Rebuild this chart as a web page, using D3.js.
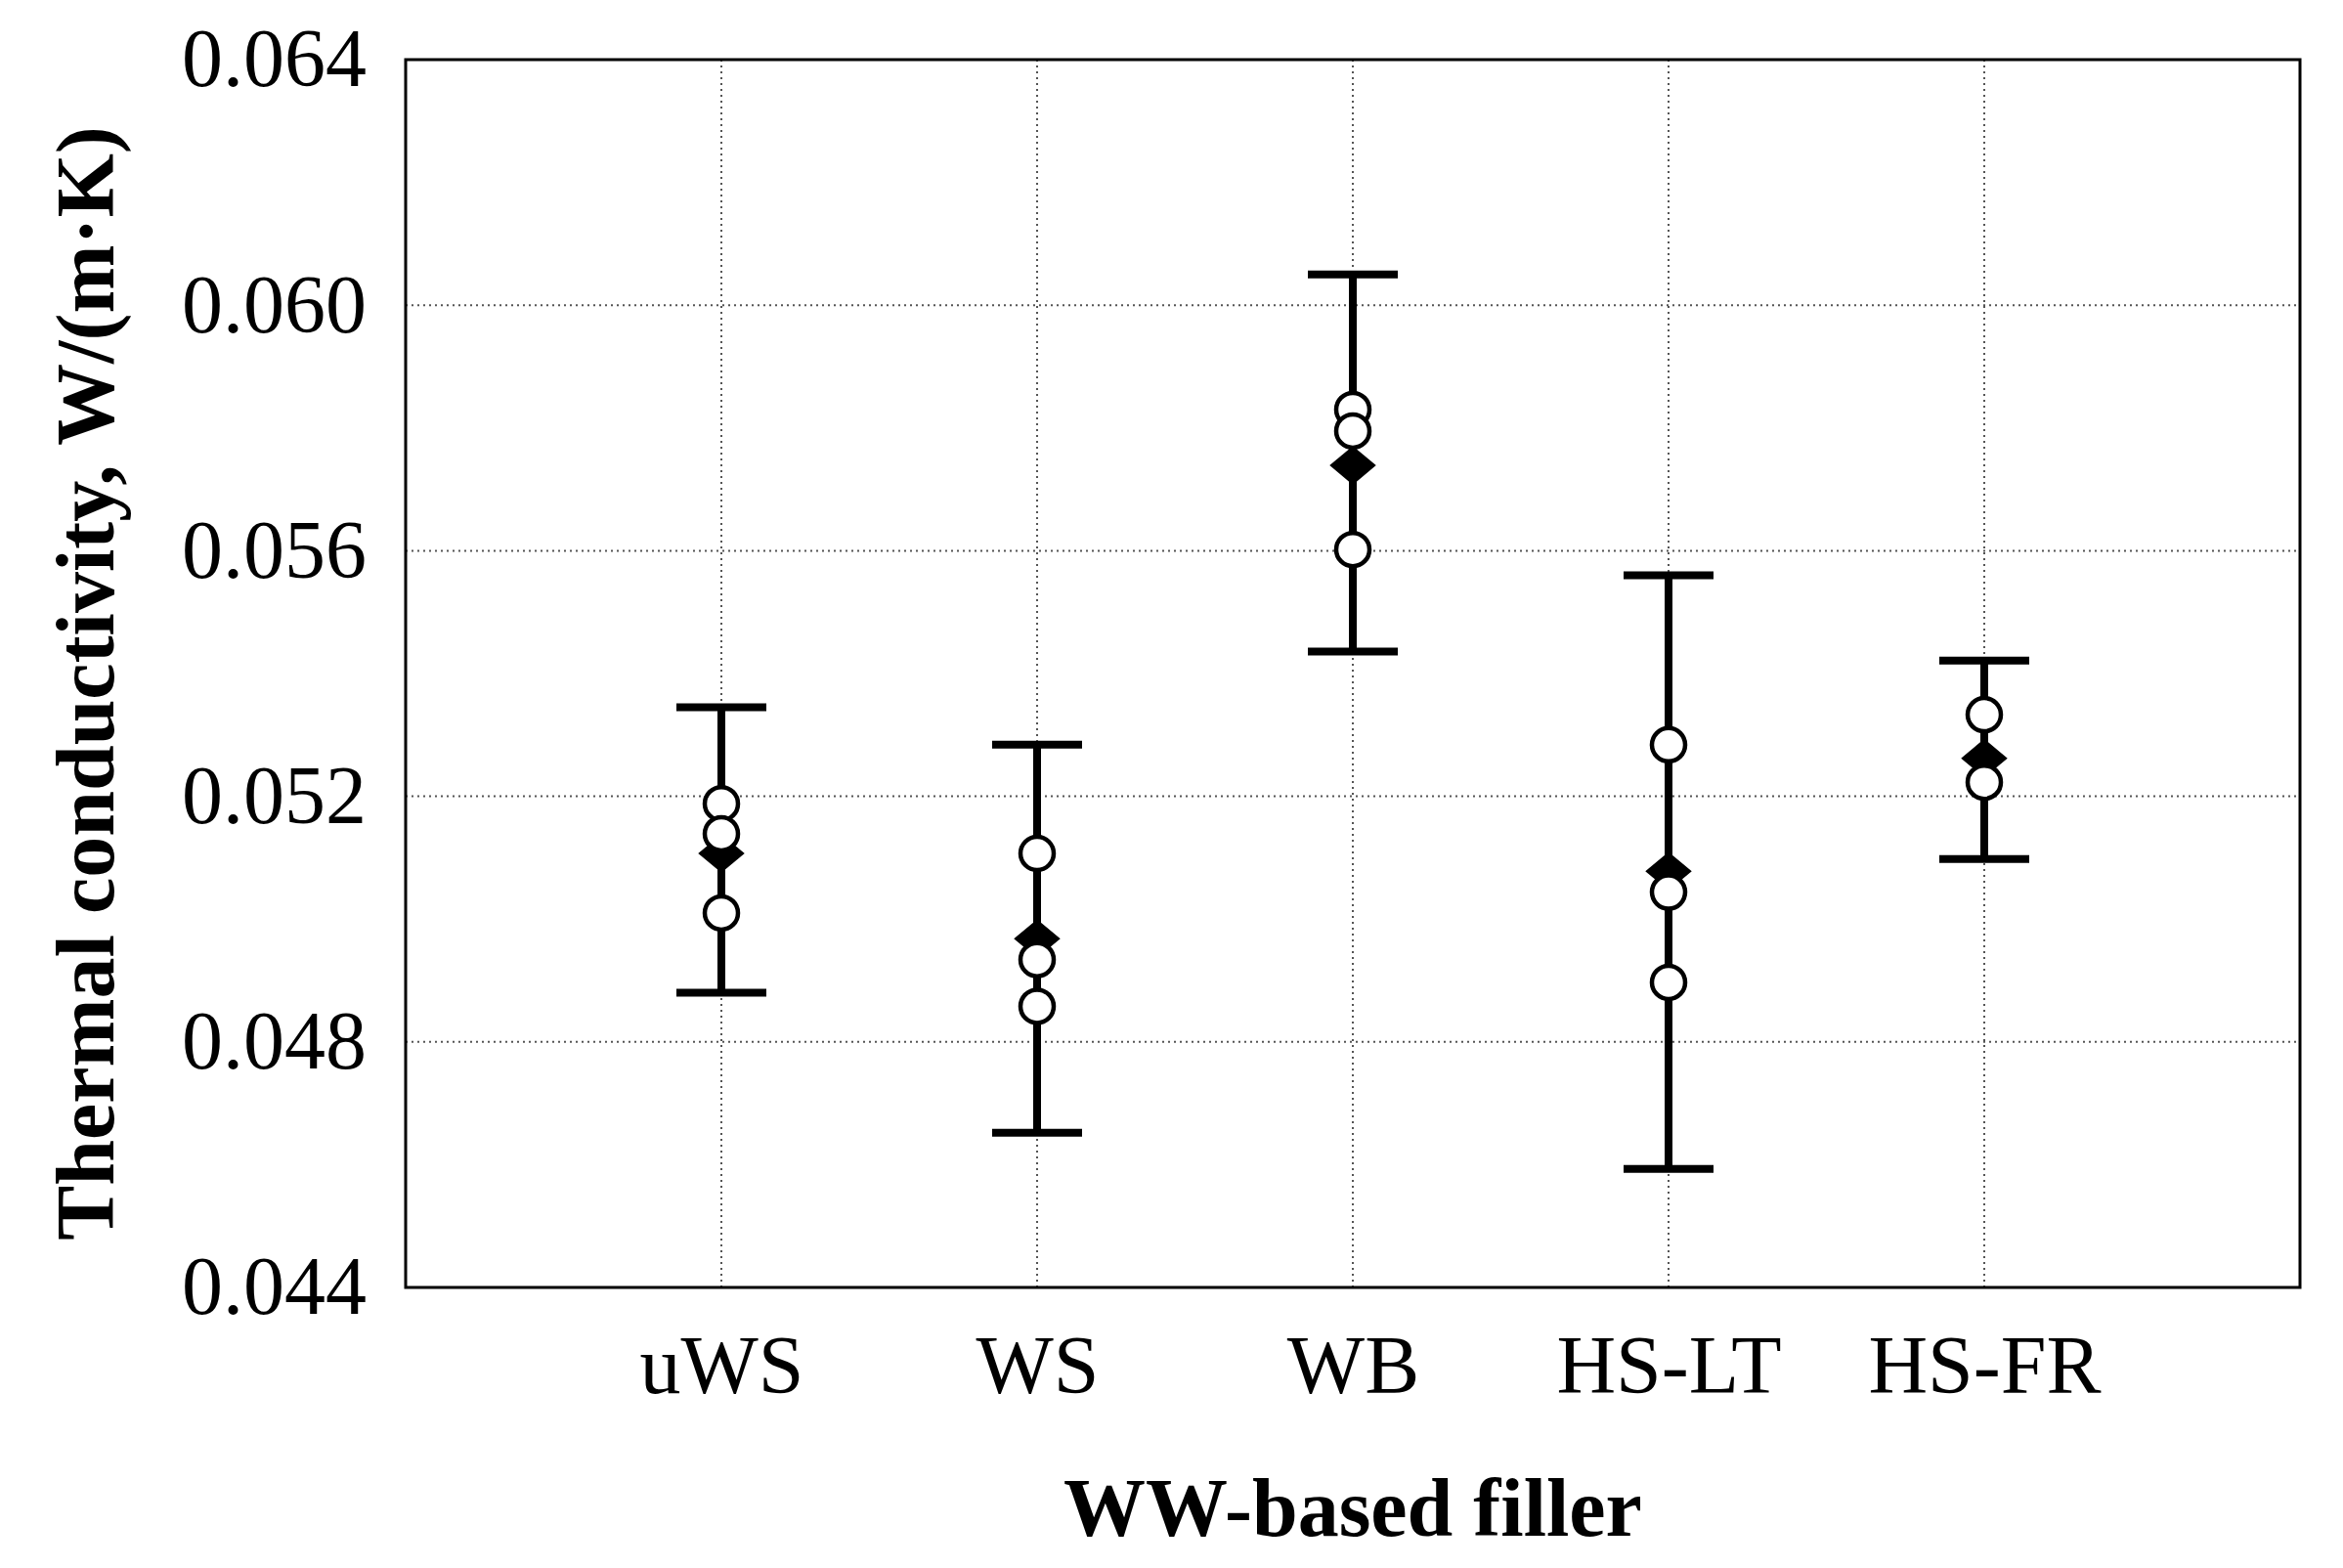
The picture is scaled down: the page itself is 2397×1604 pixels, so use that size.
<!DOCTYPE html>
<html><head><meta charset="utf-8">
<script src="https://cdn.jsdelivr.net/npm/d3@7"></script>
<style>body{margin:0;background:#fff}</style>
</head><body><div id="chart"></div>
<script>
var categories = ['uWS','WS','WB','HS-LT','HS-FR']
var means = [0.05107,0.04968,0.05739,0.05078,0.05262]
var errLow = [0.04880,0.04652,0.05436,0.04593,0.05098]
var errHigh = [0.05345,0.05284,0.06050,0.05560,0.05421]
var samples = [
  [0.05188,0.05139,0.05010],
  [0.05107,0.04934,0.04858],
  [0.05830,0.05795,0.05602],
  [0.05284,0.05044,0.04897],
  [0.05333,0.05223]
]
var yTicks = [0.044,0.048,0.052,0.056,0.060,0.064]

var W = 2397, H = 1604
var m = {l:415, r:44, t:61, b:287}
var svg = d3.select('#chart').append('svg').attr('width',W).attr('height',H)
var g = svg.append('g').attr('transform','translate('+m.l+','+m.t+')')
var w = W-m.l-m.r, h = H-m.t-m.b

var x = d3.scaleLinear().domain([0,6]).range([0,w])
var y = d3.scaleLinear().domain([0.044,0.064]).range([h,0])

// grid
g.selectAll('.hg').data(yTicks.slice(1,-1)).enter().append('line')
  .attr('x1',0).attr('x2',w).attr('y1',y).attr('y2',y)
  .attr('stroke','#555').attr('stroke-width',2).attr('stroke-dasharray','2,4')
g.selectAll('.vg').data(categories).enter().append('line')
  .attr('x1',function(d,i){return x(i+1)}).attr('x2',function(d,i){return x(i+1)})
  .attr('y1',0).attr('y2',h)
  .attr('stroke','#555').attr('stroke-width',2).attr('stroke-dasharray','2,4')

g.append('rect').attr('width',w).attr('height',h)
  .attr('fill','none').attr('stroke','#000').attr('stroke-width',3)

// axes
var yAxis = g.append('g').call(d3.axisLeft(y).tickValues(yTicks).tickSize(0).tickPadding(40).tickFormat(d3.format('.3f')))
yAxis.select('.domain').remove()
yAxis.selectAll('text').attr('font-family','Liberation Serif').attr('font-size',84).attr('fill','#000')

var xAxis = g.append('g').attr('transform','translate(0,'+h+')')
  .call(d3.axisBottom(x).tickValues([1,2,3,4,5]).tickSize(0).tickPadding(48).tickFormat(function(d){return categories[d-1]}))
xAxis.select('.domain').remove()
xAxis.selectAll('text').attr('font-family','Liberation Serif').attr('font-size',84).attr('fill','#000')

// error bars
var cap = 46
categories.forEach(function(c,i){
  var cx = x(i+1)
  var eg = g.append('g')
  eg.append('line').attr('x1',cx).attr('x2',cx).attr('y1',y(errLow[i])).attr('y2',y(errHigh[i]))
    .attr('stroke','#000').attr('stroke-width',8)
  ;[errLow[i],errHigh[i]].forEach(function(v){
    eg.append('line').attr('x1',cx-cap).attr('x2',cx+cap).attr('y1',y(v)).attr('y2',y(v))
      .attr('stroke','#000').attr('stroke-width',8)
  })
  eg.append('path').attr('d',d3.symbol(d3.symbolDiamond2,1000)())
    .attr('transform','translate('+cx+','+y(means[i])+') scale(1.2,1)').attr('fill','#000')
  samples[i].forEach(function(v){
    eg.append('circle').attr('cx',cx).attr('cy',y(v)).attr('r',17)
      .attr('fill','#fff').attr('stroke','#000').attr('stroke-width',4.5)
  })
})

svg.append('text').attr('x',m.l+w/2).attr('y',1571).attr('text-anchor','middle')
  .attr('font-family','Liberation Serif').attr('font-weight','bold').attr('font-size',84).text('WW-based filler')
svg.append('text').attr('transform','translate(116,'+(m.t+h/2+10)+') rotate(-90)').attr('text-anchor','middle')
  .attr('font-family','Liberation Serif').attr('font-weight','bold').attr('font-size',84).text('Thermal conductivity, W/(m·K)')
</script></body></html>
